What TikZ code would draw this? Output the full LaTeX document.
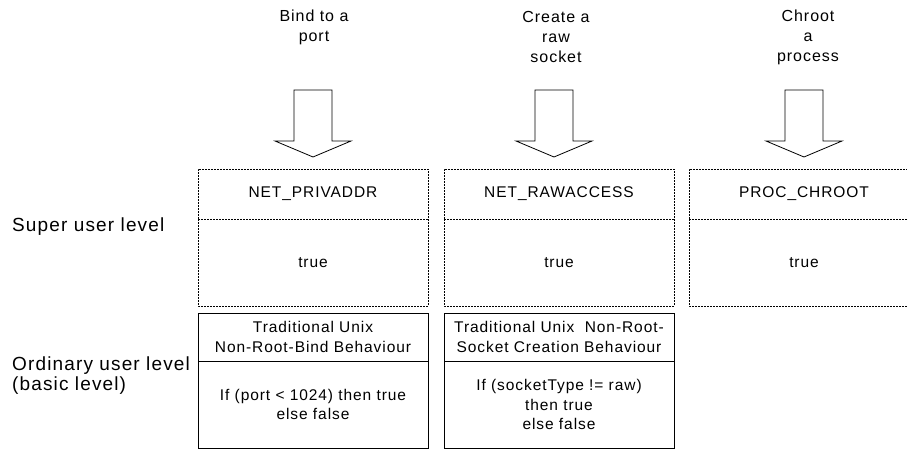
\documentclass[tikz,border=0pt]{standalone}
\usepackage{fontspec}
\setmainfont{Liberation Sans}
\newfontfamily\spacedfont[LetterSpace=6]{Liberation Sans}
\tikzset{
  pics/downarrow/.style={code={
    \draw[line width=0.8pt, fill=white]
      (-19,-67) -- (-19,-16) -- (-38,-16) -- (0,0) -- (38,-16) -- (19,-16) -- (19,-67) -- cycle;
  }},
  cell/.style={rectangle, minimum width=230pt, inner sep=0pt, outer sep=0pt,
    align=center, line width=0.8pt,
    font=\spacedfont\fontsize{15.5}{19.5}\selectfont},
  softline/.style={line width=0.8pt, dash pattern=on 2pt off 1pt},
  softcell/.style={cell, draw, softline},
  opencell/.style={cell},
  hardcell/.style={cell, draw},
  caption/.style={align=center, inner sep=0pt,
    font=\spacedfont\fontsize{16}{20}\selectfont},
  levellabel/.style={anchor=west, align=left, inner sep=0pt,
    font=\spacedfont\fontsize{19}{20}\selectfont}
}
\begin{document}
\begin{tikzpicture}[x=1pt, y=-1pt]
  \clip (0,0) rectangle (907,449);

  % operations requested
  \node[caption] (t1) at (314,27) {Bind to a\\port};
  \node[caption] (t2) at (556,37) {Create a\\raw\\socket};
  \node[caption] (t3) at (808,37) {Chroot\\a\\process};

  % super user level: privileges (lower cells share the divider of the upper ones)
  \node[softcell, minimum height=50pt, anchor=north] (p1) at (313,169) {NET\_PRIVADDR};
  \node[opencell, minimum height=87pt, anchor=north] (p1v) at (p1.south) {true};
  \node[softcell, minimum height=50pt, anchor=north] (p2) at (559,169) {NET\_RAWACCESS};
  \node[opencell, minimum height=87pt, anchor=north] (p2v) at (p2.south) {true};
  \node[softcell, minimum height=50pt, anchor=north] (p3) at (804,169) {PROC\_CHROOT};
  \node[opencell, minimum height=87pt, anchor=north] (p3v) at (p3.south) {true};
  \foreach \c in {p1v,p2v,p3v}
    \draw[softline] (\c.north west) |- (\c.south east) -- (\c.north east);

  % ordinary user level: traditional behaviour
  \node[hardcell, minimum height=48pt, anchor=north] (b1) at (313,313)
    {Traditional Unix\\Non-Root-Bind Behaviour};
  \node[hardcell, minimum height=87pt, anchor=north] (b1v) at (b1.south)
    {If (port < 1024) then true\\else false};
  \node[hardcell, minimum height=48pt, anchor=north] (b2) at (559,313)
    {Traditional Unix\ \ Non-Root-\\Socket Creation Behaviour};
  \node[hardcell, minimum height=87pt, anchor=north] (b2v) at (b2.south)
    {If (socketType != raw)\\then true\\else false};

  % arrows from each operation down to its privilege
  \pic at ([yshift=12pt]p1.north) {downarrow};
  \pic at ([xshift=-5pt, yshift=12pt]p2.north) {downarrow};
  \pic at ([yshift=12pt]p3.north) {downarrow};

  % level labels
  \node[levellabel] (lsup) at (12,227) {Super user level};
  \node[levellabel] (lord) at (12,376) {Ordinary user level\\(basic level)};
\end{tikzpicture}
\end{document}
